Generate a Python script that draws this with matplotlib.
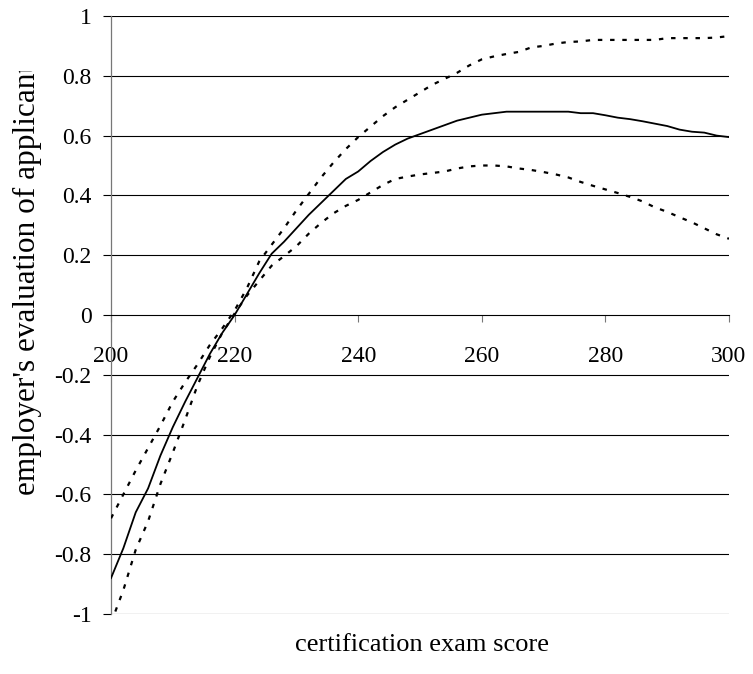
import matplotlib
matplotlib.use('Agg')
import matplotlib.pyplot as plt
from matplotlib.transforms import Bbox, TransformedBbox

plt.rcParams['font.family'] = ['Liberation Serif', 'DejaVu Serif']

# exam score grid
scores = [200, 202, 204, 206, 208, 210, 212, 214, 216, 218, 220,
          222, 224, 226, 228, 230, 232, 234, 236, 238, 240,
          242, 244, 246, 248, 250, 252, 254, 256, 258, 260,
          262, 264, 266, 268, 270, 272, 274, 276, 278, 280,
          282, 284, 286, 288, 290, 292, 294, 296, 298, 300]

# estimated evaluation (solid)
estimate = [-0.88, -0.78, -0.66, -0.58, -0.47, -0.375, -0.29, -0.21, -0.13, -0.06, 0.0,
            0.07, 0.14, 0.205, 0.245, 0.29, 0.335, 0.375, 0.415, 0.455, 0.48,
            0.515, 0.545, 0.57, 0.59, 0.605, 0.62, 0.635, 0.65, 0.66, 0.67,
            0.675, 0.68, 0.68, 0.68, 0.68, 0.68, 0.68, 0.675, 0.675, 0.668,
            0.66, 0.655, 0.648, 0.64, 0.632, 0.62, 0.613, 0.61, 0.60, 0.595]

# upper band (dotted)
upper = [-0.68, -0.60, -0.52, -0.445, -0.37, -0.29, -0.225, -0.165, -0.10, -0.045, 0.015,
         0.09, 0.18, 0.235, 0.29, 0.35, 0.405, 0.46, 0.51, 0.555, 0.595,
         0.63, 0.665, 0.695, 0.72, 0.745, 0.77, 0.79, 0.81, 0.835, 0.855,
         0.865, 0.873, 0.88, 0.895, 0.90, 0.908, 0.913, 0.915, 0.92, 0.92,
         0.92, 0.92, 0.92, 0.92, 0.926, 0.926, 0.926, 0.926, 0.928, 0.933]

# lower band (dotted)
lower = [-1.03, -0.92, -0.785, -0.69, -0.565, -0.46, -0.35, -0.235, -0.14, -0.06, 0.005,
         0.065, 0.115, 0.165, 0.197, 0.23, 0.272, 0.308, 0.34, 0.365, 0.385,
         0.41, 0.435, 0.455, 0.463, 0.47, 0.475, 0.48, 0.49, 0.497, 0.50,
         0.50, 0.497, 0.49, 0.485, 0.478, 0.47, 0.46, 0.445, 0.432, 0.42,
         0.408, 0.395, 0.38, 0.36, 0.345, 0.327, 0.31, 0.29, 0.27, 0.255]

xticks = [200, 220, 240, 260, 280, 300]
yticks = [-1, -0.8, -0.6, -0.4, -0.2, 0, 0.2, 0.4, 0.6, 0.8, 1]
ylabels = ['-1', '-0.8', '-0.6', '-0.4', '-0.2', '0', '0.2', '0.4', '0.6', '0.8', '1']

fig = plt.figure(figsize=(7.53, 6.74), dpi=100)
ax = fig.add_axes([111 / 753, 1 - 614 / 674, 618 / 753, 598 / 674])

ax.plot(scores, estimate, color='black', lw=1.3, zorder=3)
ax.plot(scores, upper, color='black', lw=1.6, dashes=(2, 3.5), zorder=3)
ax.plot(scores, lower, color='black', lw=1.6, dashes=(2, 3.5), zorder=3)

ax.set_xlim(200, 300)
ax.set_ylim(-1, 1)
ax.set_yticks(yticks)
ax.set_yticklabels(ylabels)
ax.set_xticks(xticks)
ax.set_xticklabels([str(t) for t in xticks])

for y in yticks:
    if y != 0:
        ax.axhline(y, color='black', lw=0.8, zorder=1)

ax.spines['top'].set_visible(False)
ax.spines['right'].set_visible(False)
ax.spines['left'].set_color('#777777')
ax.spines['left'].set_linewidth(0.9)
ax.spines['bottom'].set_position(('data', 0))
ax.spines['bottom'].set_linewidth(0.8)

ax.tick_params(axis='y', direction='out', length=6, width=0.8, pad=8, labelsize=17)
ax.tick_params(axis='x', direction='out', length=5, width=0.8, color='#777777',
               pad=17, labelsize=17)

fig.text(422 / 753, 1 - 645 / 674, 'certification exam score', ha='center', va='center',
         fontsize=19)
clip = TransformedBbox(Bbox([[0, 0], [1, 1 - 71 / 674]]), fig.transFigure)
ylab = fig.text(27 / 753, 1 - 495 / 674, "employer's evaluation of applicant",
                rotation=90, ha='center', va='bottom', fontsize=22.5)
ylab.set_clip_box(clip)
ylab.set_clip_on(True)

fig.savefig('out.png', dpi=100)
